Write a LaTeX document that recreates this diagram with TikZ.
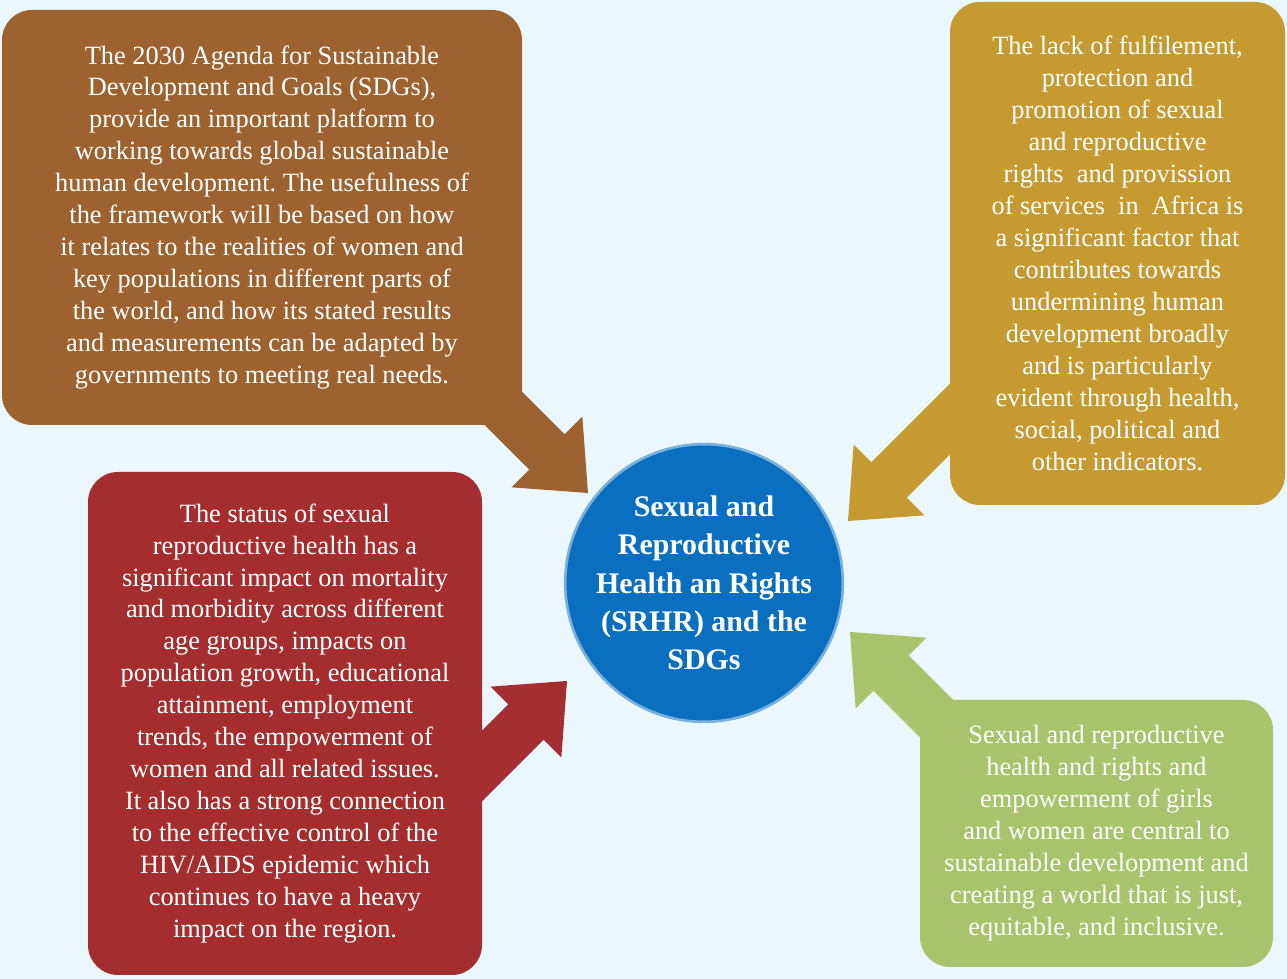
\documentclass[tikz,border=0pt]{standalone}
\usepackage{fontspec}
\setmainfont{Liberation Serif}
\frenchspacing
\usetikzlibrary{calc,positioning}
\definecolor{bgblue}{HTML}{EAF7FC}
\definecolor{srhrbrown}{HTML}{9C6331}
\definecolor{srhrgold}{HTML}{C49A31}
\definecolor{srhrred}{HTML}{A42E2F}
\definecolor{srhrgreen}{HTML}{A9C36C}
\definecolor{srhrblue}{HTML}{0B6FBF}
\newcommand{\boxfont}{\fontsize{15}{18.2}\selectfont}
\newcommand{\hubfont}{\fontsize{17}{21.8}\selectfont\bfseries}
\tikzset{
    boxsty/.style={rectangle,rounded corners=0.6cm,text=white,align=center,font=\boxfont,inner sep=0pt},
    brnsty/.style={boxsty,fill=srhrbrown,minimum width=10.4cm,minimum height=8.3cm},
    gldsty/.style={boxsty,fill=srhrgold,minimum width=6.7cm,minimum height=10.06cm},
    redsty/.style={boxsty,fill=srhrred,minimum width=7.88cm,minimum height=10.06cm},
    grnsty/.style={boxsty,fill=srhrgreen,minimum width=7.06cm,minimum height=5.34cm},
    hubsty/.style={circle,fill=srhrblue,draw=srhrblue!55!white,line width=1.5pt,text=white,align=center,font=\hubfont,minimum size=5.48cm,inner sep=0pt},
}
% block arrow: colour, tail, tip
\newcommand{\blkarrow}[3]{%
  \path ($(#3)!1.16cm!(#2)$) coordinate (hb);
  \fill[#1] (#3) -- ($(hb)!1cm!90:(#3)$) -- ($(hb)!0.5cm!90:(#3)$)
    -- ($(#2)!0.5cm!90:(#3)$) -- ($(#2)!0.5cm!-90:(#3)$)
    -- ($(hb)!0.5cm!-90:(#3)$) -- ($(hb)!1cm!-90:(#3)$) -- cycle;
}

\begin{document}
\begin{tikzpicture}
\fill[bgblue] (0,0) rectangle (25.74,19.58);
\useasboundingbox (0,0) rectangle (25.74,19.58);

% arrow ends
\coordinate (brntail) at (9.16,12.32);
\coordinate (brntip)  at (11.76,9.72);
\coordinate (gldtail) at (20.0,12.2);
\coordinate (gldtip)  at (16.96,9.16);
\coordinate (redtail) at (8.54,3.16);
\coordinate (redtip)  at (11.34,5.96);
\coordinate (grntail) at (19.8,4.14);
\coordinate (grntip)  at (17.0,6.94);

\blkarrow{srhrbrown}{brntail}{brntip}
\blkarrow{srhrgold}{gldtail}{gldtip}
\blkarrow{srhrred}{redtail}{redtip}
\blkarrow{srhrgreen}{grntail}{grntip}

\node[brnsty] (agenda) at (5.24,15.23) {The 2030 Agenda for Sustainable\\
Development and Goals (SDGs),\\
provide an important platform to\\
working towards global sustainable\\
human development. The usefulness of\\
the framework will be based on how\\
it relates to the realities of women and\\
key populations in different parts of\\
the world, and how its stated results\\
and measurements can be adapted by\\
governments to meeting real needs.};

\node[gldsty] (lack) at (22.35,14.51) {The lack of fulfilement,\\
protection and\\
promotion of sexual\\
and reproductive\\
rights~ and provission\\
of services~ in~ Africa is\\
a significant factor that\\
contributes towards\\
undermining human\\
development broadly\\
and is particularly\\
evident through health,\\
social, political and\\
other indicators.};

\node[redsty] (status) at (5.70,5.11) {The status of sexual\\
reproductive health has a\\
significant impact on mortality\\
and morbidity across different\\
age groups, impacts on\\
population growth, educational\\
attainment, employment\\
trends, the empowerment of\\
women and all related issues.\\
It also has a strong connection\\
to the effective control of the\\
HIV/AIDS epidemic which\\
continues to have a heavy\\
impact on the region.};

\node[grnsty] (central) at (21.93,2.91) {Sexual and reproductive\\
health and rights and\\
empowerment of girls\\
and women are central to\\
sustainable development and\\
creating a world that is just,\\
equitable, and inclusive.};

\node[hubsty] (srhr) at (14.08,7.92) {Sexual and\\
Reproductive\\
Health an Rights\\
(SRHR) and the\\
SDGs};
\end{tikzpicture}
\end{document}
